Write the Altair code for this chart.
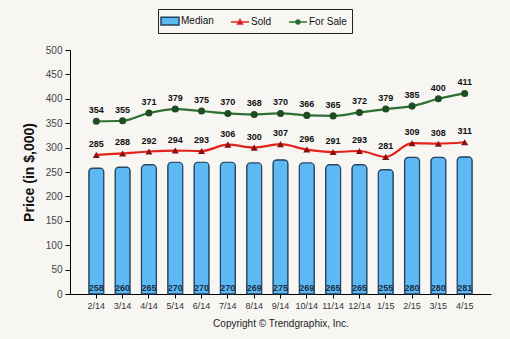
import altair as alt
import pandas as pd

months = ["2/14", "3/14", "4/14", "5/14", "6/14", "7/14", "8/14", "9/14",
          "10/14", "11/14", "12/14", "1/15", "2/15", "3/15", "4/15"]
median = [258, 260, 265, 270, 270, 270, 269, 275, 269, 265, 265, 255, 280, 280, 281]
sold = [285, 288, 292, 294, 293, 306, 300, 307, 296, 291, 293, 281, 309, 308, 311]
for_sale = [354, 355, 371, 379, 375, 370, 368, 370, 366, 365, 372, 379, 385, 400, 411]
series = ["Median", "Sold", "For Sale"]
y_ticks = [0, 50, 100, 150, 200, 250, 300, 350, 400, 450, 500]

df = pd.DataFrame({"month": months, "median": median, "sold": sold, "for_sale": for_sale})
leg_df = pd.DataFrame({"series": series, "v": [0, 0, 0], "month": [months[0]] * 3})

BG = "#f7f6f3"
BAR_FILL = "#5db9f3"
BAR_STROKE = "#24425e"
RED = "#e3221c"
RED_DARK = "#8c0f0f"
GREEN = "#2f6f33"
GREEN_DARK = "#1f4d22"

x_axis = alt.Axis(title="Copyright \u00a9 Trendgraphix, Inc.", labelAngle=0,
                  labelFontSize=9, labelColor="#333333", titleFontSize=10,
                  titleFontWeight="normal", titleColor="#222222",
                  titlePadding=8, tickSize=4, tickColor="#000000",
                  domainColor="#000000", labelPadding=3, labelOverlap=False)
x_scale = alt.Scale(paddingInner=0.43, paddingOuter=0.715)
y_scale = alt.Scale(domain=[0, 500], nice=False)
y_axis = alt.Axis(title="Price (in $,000)", values=y_ticks, tickCount=11,
                  grid=False, labelFontSize=10, labelColor="#444444",
                  titleFontSize=14, titleFontWeight="bold", titleColor="#111111",
                  titlePadding=9, tickSize=5, tickColor="#000000",
                  domainColor="#000000", labelPadding=3, labelOverlap=False)


def X():
    return alt.X("month:N", sort=months, scale=x_scale, axis=x_axis)


def Y(field):
    return alt.Y(field, scale=y_scale, axis=y_axis)


base = alt.Chart(df)

bars = base.mark_bar(fill=BAR_FILL, stroke=BAR_STROKE, strokeWidth=1.2,
                     cornerRadiusTopLeft=4, cornerRadiusTopRight=4).encode(
    x=X(), y=Y("median:Q"))

bar_labels = base.mark_text(fontSize=9, fontWeight="bold", color="#1c2f48",
                            baseline="bottom", dy=-1).encode(
    x=X(), y=alt.datum(0), text="median:Q")

sold_line = base.mark_line(color=RED, strokeWidth=2.2, interpolate="monotone").encode(
    x=X(), y=Y("sold:Q"))
sold_pts = base.mark_point(shape="triangle-up", filled=True, color=RED_DARK,
                           size=50, opacity=1).encode(x=X(), y=Y("sold:Q"))
sold_lbl = base.mark_text(fontSize=9, fontWeight="bold", color="#111111",
                          baseline="bottom", dy=-6).encode(
    x=X(), y=Y("sold:Q"), text="sold:Q")

fs_line = base.mark_line(color=GREEN, strokeWidth=2.2, interpolate="monotone").encode(
    x=X(), y=Y("for_sale:Q"))
fs_pts = base.mark_point(shape="circle", filled=True, color=GREEN_DARK,
                         size=50, opacity=1).encode(x=X(), y=Y("for_sale:Q"))
fs_lbl = base.mark_text(fontSize=9, fontWeight="bold", color="#111111",
                        baseline="bottom", dy=-6).encode(
    x=X(), y=Y("for_sale:Q"), text="for_sale:Q")

rect_path = "M-1.5,-0.65H1.5V0.65H-1.5Z"
tri_path = "M-1.5,0H1.5M-0.4,0.35L0,-0.4L0.4,0.35Z"
circ_path = "M-1.5,0H1.5M0.33,0A0.33,0.33,0,1,1,-0.33,0A0.33,0.33,0,1,1,0.33,0Z"

legend = alt.Legend(title=None, orient="none", legendX=88, legendY=-41,
                    direction="horizontal", strokeColor="#222222", fillColor=BG,
                    padding=5, labelFontSize=10, labelColor="#111111",
                    symbolSize=144, symbolStrokeWidth=1.5, symbolOpacity=1,
                    columnPadding=14, labelOffset=4)
leg_layer = alt.Chart(leg_df).mark_point(filled=True, opacity=0).encode(
    x=X(),
    y=Y("v:Q"),
    fill=alt.Fill("series:N", sort=series,
                  scale=alt.Scale(domain=series, range=[BAR_FILL, RED_DARK, GREEN_DARK]),
                  legend=legend),
    stroke=alt.Stroke("series:N", sort=series,
                      scale=alt.Scale(domain=series, range=[BAR_STROKE, RED, GREEN]),
                      legend=legend),
    shape=alt.Shape("series:N", sort=series,
                    scale=alt.Scale(domain=series, range=[rect_path, tri_path, circ_path]),
                    legend=legend),
)

chart = alt.layer(bars, bar_labels, sold_line, fs_line, sold_pts, fs_pts,
                  sold_lbl, fs_lbl, leg_layer).properties(
    width=421, height=244,
    autosize=alt.AutoSizeParams(type="none"),
    padding={"left": 70, "top": 50, "right": 19, "bottom": 45},
    background=BG,
).configure_view(stroke=None).configure_axis(labelFont="Arial", titleFont="Arial"
).configure_text(font="Arial").configure_legend(labelFont="Arial")

chart.save("out.html", embed_options={"renderer": "svg", "actions": False})
